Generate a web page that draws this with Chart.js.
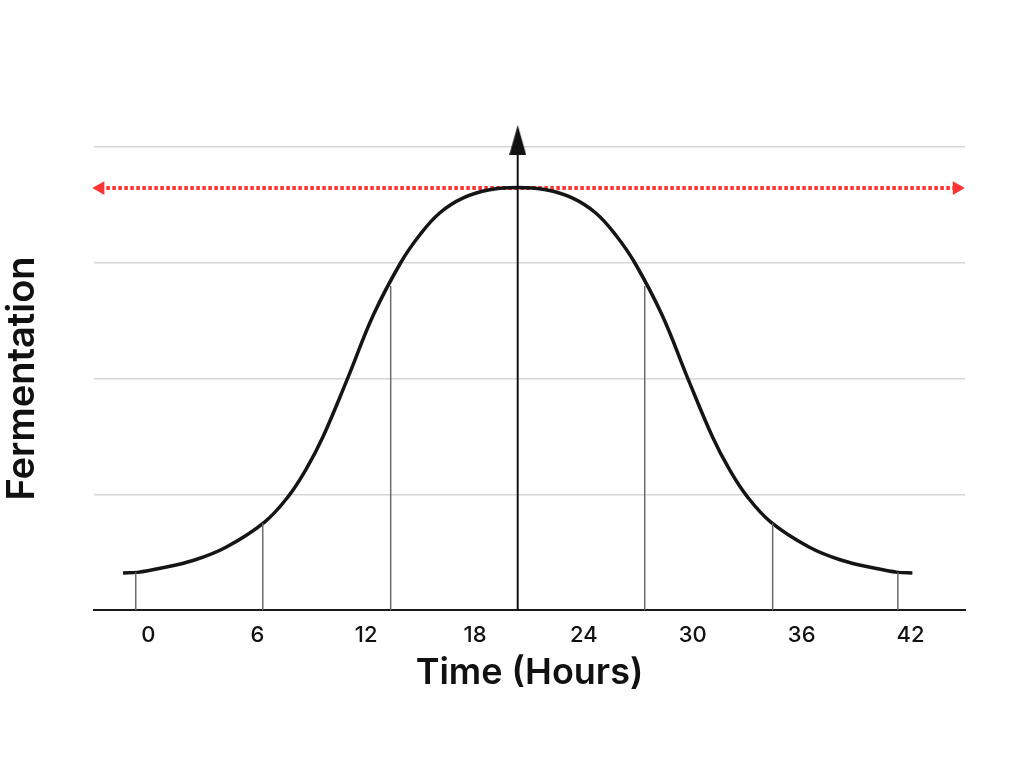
<!DOCTYPE html>
<html>
<head>
<meta charset="utf-8">
<script src="https://cdn.jsdelivr.net/npm/chart.js@4.4.1/dist/chart.umd.min.js"></script>
<style>
  html, body { margin: 0; padding: 0; background: #fff; }
</style>
</head>
<body>
<canvas id="chart" width="1024" height="768"></canvas>
<script>
// bell curve (hours, fermentation level)
const curveHours = [-1.4, -0.6, 0.65, 2.5, 4.3, 6.4, 7.7, 8.7, 9.6, 11.0, 12.4, 13.9, 14.95, 16.05, 17.35, 18.8,
  20.35, 21.9, 23.35, 24.65, 25.75, 26.8, 28.3, 29.7, 31.1, 32.0, 33.0, 34.3, 36.4, 38.2, 40.05, 41.3, 42.1];
const curveLevel = [0.32, 0.325, 0.36, 0.43, 0.545, 0.76, 0.98, 1.22, 1.49, 2.01, 2.55, 3.00, 3.24, 3.43, 3.56, 3.63,
  3.65, 3.63, 3.56, 3.43, 3.24, 3.00, 2.55, 2.01, 1.49, 1.22, 0.98, 0.76, 0.545, 0.43, 0.36, 0.325, 0.32];

// thin drop lines under the curve
const dropHours = [-0.7, 6.3, 13.35, 27.35, 34.4, 41.3];
const dropLevel = [0.325, 0.75, 2.8, 2.8, 0.75, 0.325];

// centre arrow and the red peak line
const peakHour = 20.35;
const arrowTop = 4.06;
const peakLevel = 3.645;
const peakLineHours = [-2.65, 44.55];

const xTicks = [0, 6, 12, 18, 24, 30, 36, 42];
const yTicks = [0, 1, 2, 3, 4];

// narrow black arrow head for the centre line
const head = document.createElement('canvas');
head.width = 17;
head.height = 30;
const hc = head.getContext('2d');
hc.fillStyle = '#111';
hc.beginPath();
hc.moveTo(8.5, 0);
hc.lineTo(17, 30);
hc.lineTo(0, 30);
hc.closePath();
hc.fill();

const datasets = [];

dropHours.forEach((h, i) => {
  datasets.push({
    data: [{x: h, y: 0}, {x: h, y: dropLevel[i]}],
    borderColor: '#6b6b6b',
    borderWidth: 1.5,
    pointRadius: 0
  });
});

datasets.push({
  data: [{x: peakHour, y: 0}, {x: peakHour, y: arrowTop}],
  borderColor: '#111',
  borderWidth: 2,
  pointStyle: [false, head],
  pointRadius: [0, 20],
  pointBorderWidth: 0,
  clip: false
});

datasets.push({
  data: curveHours.map((h, i) => ({x: h, y: curveLevel[i]})),
  borderColor: '#151515',
  borderWidth: 3.5,
  tension: 0.4,
  pointRadius: 0,
  borderCapStyle: 'butt'
});

datasets.push({
  data: peakLineHours.map(h => ({x: h, y: peakLevel})),
  borderColor: '#ff3333',
  borderWidth: 4,
  borderDash: [3.5, 2.5],
  borderCapStyle: 'butt',
  pointStyle: 'triangle',
  pointRotation: [-90, 90],
  pointRadius: 8,
  pointBackgroundColor: '#ff3333',
  pointBorderWidth: 0,
  clip: false
});

const chart = new Chart(document.getElementById('chart'), {
  type: 'line',
  data: { datasets: datasets },
  options: {
    responsive: false,
    animation: false,
    events: [],
    devicePixelRatio: 1,
    layout: { padding: { top: 147, right: 59, bottom: 73, left: 0 } },
    plugins: { legend: { display: false }, tooltip: { enabled: false } },
    scales: {
      x: {
        type: 'linear',
        min: -3,
        max: 45,
        afterBuildTicks: s => { s.ticks = xTicks.map(v => ({value: v})); },
        afterFit: s => { s.height = 85; },
        grid: { display: false },
        border: { display: true, color: '#1a1a1a', width: 2 },
        ticks: {
          color: '#111',
          padding: 4,
          font: { family: 'Inter', size: 22, weight: '500' }
        },
        title: {
          display: true,
          text: 'Time (Hours)',
          color: '#111',
          padding: { top: 0, bottom: 0 },
          font: { family: 'Inter', size: 36, weight: '600' }
        }
      },
      y: {
        type: 'linear',
        min: 0,
        max: 4,
        afterBuildTicks: s => { s.ticks = yTicks.map(v => ({value: v})); },
        afterFit: s => { s.width = 94; },
        grid: { color: '#d6d6d6', lineWidth: 1.5, drawTicks: false },
        border: { display: false },
        ticks: { display: false },
        title: {
          display: true,
          text: 'Fermentation',
          color: '#111',
          padding: { top: 0, bottom: 0 },
          font: { family: 'Inter', size: 38, weight: '600' }
        }
      }
    }
  }
});
</script>
</body>
</html>
